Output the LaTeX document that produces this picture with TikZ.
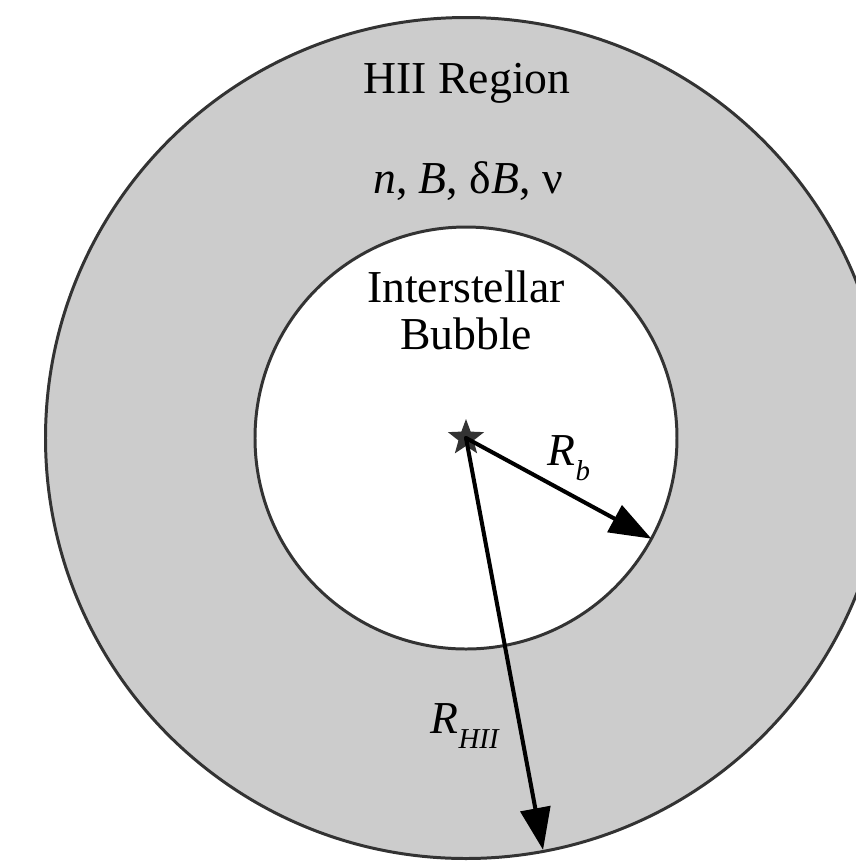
\documentclass[tikz,border=0pt]{standalone}
\usepackage{fontspec}
\setmainfont{Liberation Serif}
\usetikzlibrary{arrows.meta,shapes.geometric,calc}
\definecolor{shellgrey}{HTML}{CCCCCC}
\definecolor{edgegrey}{HTML}{333333}
\newcommand{\radlbl}[2]{\textit{#1}\raisebox{-4.3pt}{\fontsize{8.2}{9}\selectfont\textit{#2}}}

\begin{document}
\begin{tikzpicture}[line cap=round,line join=round,every node/.style={inner sep=0pt},
  txt/.style={font=\fontsize{13}{15}\selectfont,anchor=base},
  radius arrow/.style={line width=1.15pt,-{Triangle[length=0.42cm,width=0.3cm]}}]
  \useasboundingbox (0,0) rectangle (8.56,-8.62);
  \clip (0,0) rectangle (8.56,-8.62);
  \coordinate (C) at (4.66,-4.38);
  \draw[line width=0.85pt,draw=edgegrey,fill=shellgrey] (C) circle[radius=4.205];
  \draw[line width=0.85pt,draw=edgegrey,fill=white] (C) circle[radius=2.11];
  \node[txt] (hii) at (4.67,-0.93) {HII Region};
  \node[txt] (params) at (4.68,-1.93) {\textit{n}, \textit{B}, δ\textit{B}, ν};
  \node[txt] (inter) at (4.66,-3.02) {Interstellar};
  \node[txt] (bub) at (4.66,-3.49) {Bubble};
  \node[star,star points=5,star point ratio=2.4,minimum size=0.38cm,fill=edgegrey] (src) at (C) {};
  % ends of the two radii, on the circles
  \coordinate (tipb) at ($(C)+(-28.5:2.11)$);
  \coordinate (tiphii) at ($(C)+(-79.4:4.19)$);
  \draw[radius arrow] (src.center) -- (tipb);
  \draw[radius arrow] (src.center) -- (tiphii);
  \node[txt,anchor=base west] (rb) at (5.47,-4.65) {\radlbl{R}{b}};
  \node[txt,anchor=base west] (rhii) at (4.30,-7.33) {\radlbl{R}{HII}};
\end{tikzpicture}
\end{document}
